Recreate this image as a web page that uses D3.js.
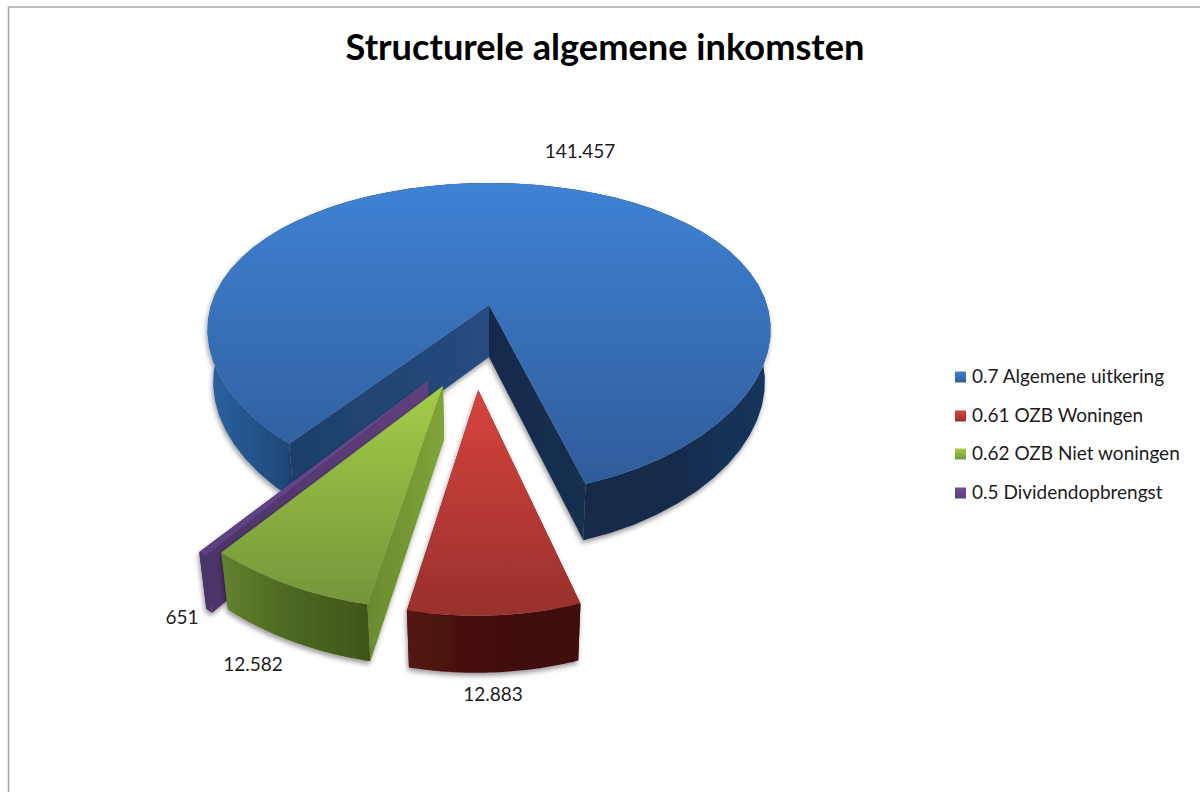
<!DOCTYPE html>
<html>
<head>
<meta charset="utf-8">
<script src="https://cdnjs.cloudflare.com/ajax/libs/d3/7.8.5/d3.min.js"></script>
<style>
  html, body { margin: 0; padding: 0; background: #fff; }
  svg { display: block; }
  text { font-family: Lato, "Open Sans", sans-serif; fill: #1c1c1c; }
</style>
</head>
<body>
<svg id="chart" width="1200" height="792"></svg>
<script>
// data
const categories = ['0.7 Algemene uitkering', '0.61 OZB Woningen', '0.62 OZB Niet woningen', '0.5 Dividendopbrengst'];
const values = [141457, 12883, 12582, 651];
const title = 'Structurele algemene inkomsten';

// pull-out of each slice
const explodeDist = [0, 0.51, 0.511, 0.503];
const explodeDir = [0, 184, 197.4, 203.8];
const sliceRadiusX = [1, 1.012, 1.018, 1.01];
const sliceRadiusY = [1, 0.93, 0.93, 0.98];
const sliceTurn = [0, 0.4, 0, 0];

const topColors = [['#3f82d4', '#2f5c99'], ['#d8433e', '#98302c'], ['#a4cd48', '#75953a'], ['#6f4c9b', '#5c3f80']];
const rimColors = [
    [[0, '#2c62a4'], [0.14, '#1f4878'], [0.16, '#15294a'], [0.8, '#14294a'], [1, '#17365c']],
    [[0, '#531412'], [0.5, '#430f0d'], [1, '#3e0f0d']],
    [[0, '#64822f'], [0.4, '#4f6a23'], [1, '#3f5518']],
    [[0, '#4b3468'], [1, '#4b3468']]
];
const wallStart = [['#1d4069', '#264c80'], ['#531412', '#531412'], ['#6a8a30', '#7fa538'], ['#4b3468', '#5f417c']];
const wallEnd = [['#15294a', '#18304f'], ['#531412', '#531412'], ['#4f6a23', '#4f6a23'], ['#4b3468', '#4b3468']];
const drawOrder = [0, 1, 3, 2];
const legendY = [377, 416, 454, 493];

// number format uses dots for thousands
const nl = d3.formatLocale({ decimal: ',', thousands: '.', grouping: [3], currency: ['€', ''] });
const fmt = nl.format(',d');

const svg = d3.select('#chart');
const defs = svg.append('defs');

// chart frame
svg.append('path')
    .attr('d', 'M8.5,792V7H1200')
    .attr('fill', 'none')
    .attr('stroke', '#a8a8a8')
    .attr('stroke-width', 1.6);

svg.append('text')
    .attr('x', 605).attr('y', 60)
    .attr('text-anchor', 'middle')
    .attr('font-size', 36.2)
    .attr('font-weight', 700)
    .style('fill', '#000')
    .text(title);

// perspective of the tilted pie
const cx = 489, cy = 305;
const kx = 278, my = 148.5;
const perspX = 0.16, perspY = 0.217;
const depthY = 54, depthWx = 0.02, depthWy = 0.04;

function project(X, Y, z) {
    return [
        cx + X * kx / (1 + perspX * Y + depthWx * z),
        cy + (-Y * my + z * depthY) / (1 + perspY * Y + depthWy * z)
    ];
}

const shadow = defs.append('filter').attr('id', 'shadow')
    .attr('x', '-10%').attr('y', '-10%').attr('width', '120%').attr('height', '125%');
shadow.append('feDropShadow')
    .attr('dx', -1).attr('dy', 3).attr('stdDeviation', 2.5)
    .attr('flood-color', '#000').attr('flood-opacity', 0.4);

function addGradient(id, stops, vertical) {
    const g = defs.append('linearGradient').attr('id', id)
        .attr('x1', 0).attr('y1', 0)
        .attr('x2', vertical ? 0 : 1).attr('y2', vertical ? 1 : 0);
    stops.forEach(function (s) {
        g.append('stop').attr('offset', s[0]).attr('stop-color', s[1]);
    });
}

categories.forEach(function (c, i) {
    addGradient('top' + i, [[0, topColors[i][0]], [1, topColors[i][1]]], true);
    addGradient('rim' + i, rimColors[i], false);
    addGradient('wallS' + i, [[0, wallStart[i][0]], [1, wallStart[i][1]]], false);
    addGradient('wallE' + i, [[0, wallEnd[i][0]], [1, wallEnd[i][1]]], false);
});

const pie = d3.pie().sort(null)
    .startAngle(219 * Math.PI / 180)
    .endAngle((219 + 360) * Math.PI / 180);
const arcs = pie(values);
const line = d3.line();

function sliceGeom(d, i) {
    const dir = explodeDir[i] * Math.PI / 180;
    const ox = explodeDist[i] * Math.sin(dir);
    const oy = explodeDist[i] * Math.cos(dir);
    const rx = sliceRadiusX[i], ry = sliceRadiusY[i];
    const turn = sliceTurn[i] * Math.PI / 180;
    const steps = d3.range(0, 61).map(function (s) {
        return d.startAngle + turn + (d.endAngle - d.startAngle) * s / 60;
    });
    const edge = function (z) {
        return steps.map(function (a) { return project(ox + rx * Math.sin(a), oy + ry * Math.cos(a), z); });
    };
    return {
        apex0: project(ox, oy, 0),
        apex1: project(ox, oy, 1),
        edge0: edge(0),
        edge1: edge(1)
    };
}

drawOrder.forEach(function (i) {
    const g = sliceGeom(arcs[i], i);
    const n = g.edge0.length - 1;
    const grp = svg.append('g').attr('filter', 'url(#shadow)');

    // cut faces
    grp.append('path')
        .attr('d', line([g.apex0, g.edge0[n], g.edge1[n], g.apex1]) + 'Z')
        .attr('fill', 'url(#wallE' + i + ')');
    grp.append('path')
        .attr('d', line([g.apex0, g.edge0[0], g.edge1[0], g.apex1]) + 'Z')
        .attr('fill', 'url(#wallS' + i + ')');
    // outer rim
    grp.append('path')
        .attr('d', line(g.edge0.concat(g.edge1.slice().reverse())) + 'Z')
        .attr('fill', 'url(#rim' + i + ')');
    // top face
    grp.append('path')
        .attr('d', line([g.apex0].concat(g.edge0)) + 'Z')
        .attr('fill', 'url(#top' + i + ')');
});

// data labels
const labelX = [580, 493, 253, 182];
const labelY = [158, 701, 671, 624];
values.forEach(function (v, i) {
    svg.append('text')
        .attr('x', labelX[i]).attr('y', labelY[i])
        .attr('text-anchor', 'middle')
        .attr('font-size', 19)
        .text(fmt(v));
});

// legend
categories.forEach(function (c, i) {
    svg.append('rect')
        .attr('x', 955).attr('y', legendY[i] - 5.5)
        .attr('width', 11).attr('height', 11)
        .attr('fill', 'url(#top' + i + ')');
    svg.append('text')
        .attr('x', 972).attr('y', legendY[i] + 6)
        .attr('font-size', 19)
        .text(c);
});
</script>
</body>
</html>
